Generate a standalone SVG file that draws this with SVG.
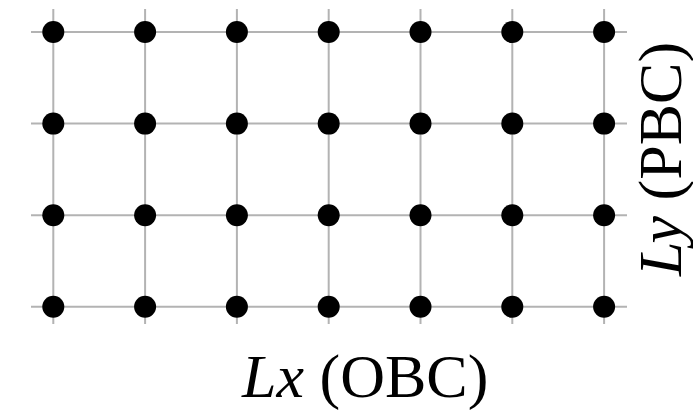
<svg xmlns="http://www.w3.org/2000/svg" width="693" height="410" viewBox="0 0 693 410">
<style>
.g{stroke:#b3b3b3;stroke-width:2;fill:none}
.d{fill:#000}
.t{font-family:"Liberation Serif","Times New Roman",serif;font-size:62px;fill:#000}
.i{font-style:italic}
</style>
<rect width="693" height="410" fill="#fff"/>
<g id="connectors">
<line class="g" x1="31" y1="32" x2="627" y2="32"/>
<line class="g" x1="31" y1="123.6" x2="627" y2="123.6"/>
<line class="g" x1="31" y1="215.2" x2="627" y2="215.2"/>
<line class="g" x1="31" y1="306.8" x2="627" y2="306.8"/>
<line class="g" x1="53.3" y1="9" x2="53.3" y2="324"/>
<line class="g" x1="145.1" y1="9" x2="145.1" y2="324"/>
<line class="g" x1="236.9" y1="9" x2="236.9" y2="324"/>
<line class="g" x1="328.7" y1="9" x2="328.7" y2="324"/>
<line class="g" x1="420.5" y1="9" x2="420.5" y2="324"/>
<line class="g" x1="512.3" y1="9" x2="512.3" y2="324"/>
<line class="g" x1="604.1" y1="9" x2="604.1" y2="324"/>
</g>
<g id="nodes">
<g id="row1">
<circle class="d" cx="53.3" cy="32" r="11"/><circle class="d" cx="145.1" cy="32" r="11"/><circle class="d" cx="236.9" cy="32" r="11"/><circle class="d" cx="328.7" cy="32" r="11"/><circle class="d" cx="420.5" cy="32" r="11"/><circle class="d" cx="512.3" cy="32" r="11"/><circle class="d" cx="604.1" cy="32" r="11"/>
</g>
<g id="row2">
<circle class="d" cx="53.3" cy="123.6" r="11"/><circle class="d" cx="145.1" cy="123.6" r="11"/><circle class="d" cx="236.9" cy="123.6" r="11"/><circle class="d" cx="328.7" cy="123.6" r="11"/><circle class="d" cx="420.5" cy="123.6" r="11"/><circle class="d" cx="512.3" cy="123.6" r="11"/><circle class="d" cx="604.1" cy="123.6" r="11"/>
</g>
<g id="row3">
<circle class="d" cx="53.3" cy="215.2" r="11"/><circle class="d" cx="145.1" cy="215.2" r="11"/><circle class="d" cx="236.9" cy="215.2" r="11"/><circle class="d" cx="328.7" cy="215.2" r="11"/><circle class="d" cx="420.5" cy="215.2" r="11"/><circle class="d" cx="512.3" cy="215.2" r="11"/><circle class="d" cx="604.1" cy="215.2" r="11"/>
</g>
<g id="row4">
<circle class="d" cx="53.3" cy="306.8" r="11"/><circle class="d" cx="145.1" cy="306.8" r="11"/><circle class="d" cx="236.9" cy="306.8" r="11"/><circle class="d" cx="328.7" cy="306.8" r="11"/><circle class="d" cx="420.5" cy="306.8" r="11"/><circle class="d" cx="512.3" cy="306.8" r="11"/><circle class="d" cx="604.1" cy="306.8" r="11"/>
</g>
</g>
<g id="labels">
<text class="t" x="242" y="397"><tspan class="i">Lx</tspan> (OBC)</text>
<text class="t" x="681" y="159" text-anchor="middle" transform="rotate(-90 681 159)"><tspan class="i">Ly</tspan> (PBC)</text>
</g>
</svg>
